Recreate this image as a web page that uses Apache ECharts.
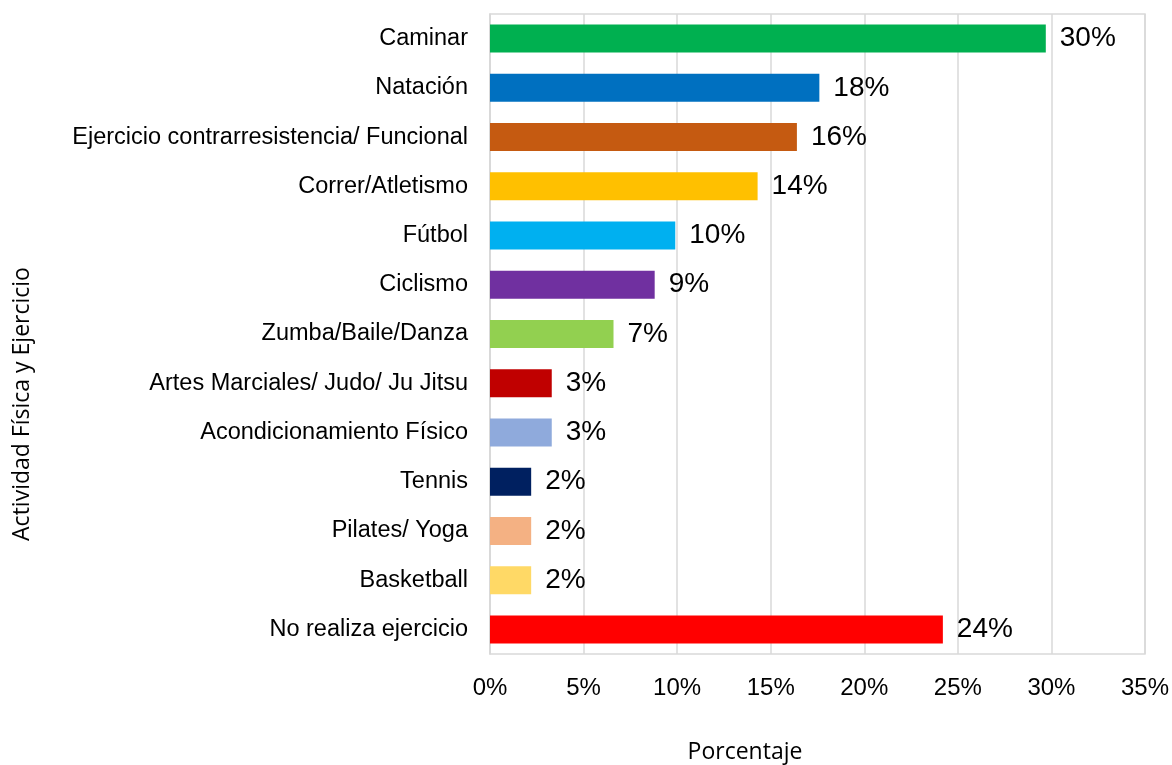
<!DOCTYPE html>
<html>
<head>
<meta charset="utf-8">
<script src="https://cdn.jsdelivr.net/npm/echarts@6/dist/echarts.min.js"></script>
<style>
  html, body { margin: 0; padding: 0; background: #fff; }
  #chart { width: 1172px; height: 765px; }
</style>
</head>
<body>
<div id="chart"></div>
<script>
// Activities, listed top to bottom
const categories = [
  'Caminar',
  'Natación',
  'Ejercicio contrarresistencia/ Funcional',
  'Correr/Atletismo',
  'Fútbol',
  'Ciclismo',
  'Zumba/Baile/Danza',
  'Artes Marciales/ Judo/ Ju Jitsu',
  'Acondicionamiento Físico',
  'Tennis',
  'Pilates/ Yoga',
  'Basketball',
  'No realiza ejercicio'
];
// Share of respondents (%)
const values = [29.7, 17.6, 16.4, 14.3, 9.9, 8.8, 6.6, 3.3, 3.3, 2.2, 2.2, 2.2, 24.2];
const barColors = [
  '#00b050', '#0070c0', '#c55a11', '#ffc000', '#00b0f0', '#7030a0', '#92d050',
  '#c00000', '#8faadc', '#002060', '#f4b183', '#ffd966', '#ff0000'
];
const xTicks = [0, 5, 10, 15, 20, 25, 30, 35];

const chart = echarts.init(document.getElementById('chart'), null, { renderer: 'canvas' });

chart.setOption({
  animation: false,
  backgroundColor: '#ffffff',
  grid: {
    left: 490, right: 26, top: 14, bottom: 111,
    show: true, borderColor: '#d9d9d9', borderWidth: 1.5
  },
  xAxis: {
    type: 'value',
    min: xTicks[0],
    max: xTicks[xTicks.length - 1],
    interval: xTicks[1] - xTicks[0],
    axisLine: { show: false },
    axisTick: { show: false },
    splitLine: { show: true, lineStyle: { color: '#d9d9d9', width: 1.5 } },
    axisLabel: {
      formatter: v => v + '%',
      fontFamily: 'Liberation Sans, Arial, sans-serif',
      fontSize: 24, color: '#000', margin: 22
    }
  },
  yAxis: {
    type: 'category',
    data: categories,
    inverse: true,
    axisLine: { show: true, lineStyle: { color: '#d9d9d9', width: 1.5 } },
    axisTick: { show: false },
    axisLabel: {
      fontFamily: 'Liberation Sans, Arial, sans-serif',
      fontSize: 23.5, color: '#000', margin: 22
    }
  },
  series: [{
    type: 'bar',
    barWidth: 28,
    data: values.map((v, i) => ({ value: v, itemStyle: { color: barColors[i] } })),
    label: {
      show: true,
      position: 'right',
      distance: 14,
      formatter: p => Math.round(p.value) + '%',
      fontFamily: 'Liberation Sans, Arial, sans-serif',
      fontSize: 28, color: '#000'
    }
  }],
  graphic: [
    {
      type: 'text',
      x: 745, y: 752,
      style: {
        text: 'Porcentaje',
        font: '23px "Open Sans", "Noto Sans", sans-serif',
        fill: '#000', align: 'center', verticalAlign: 'middle'
      }
    },
    {
      type: 'text',
      x: 22, y: 404,
      rotation: Math.PI / 2,
      style: {
        text: 'Actividad Física y Ejercicio',
        font: '23px "Open Sans", "Noto Sans", sans-serif',
        fill: '#000', align: 'center', verticalAlign: 'middle'
      }
    }
  ]
});
</script>
</body>
</html>
